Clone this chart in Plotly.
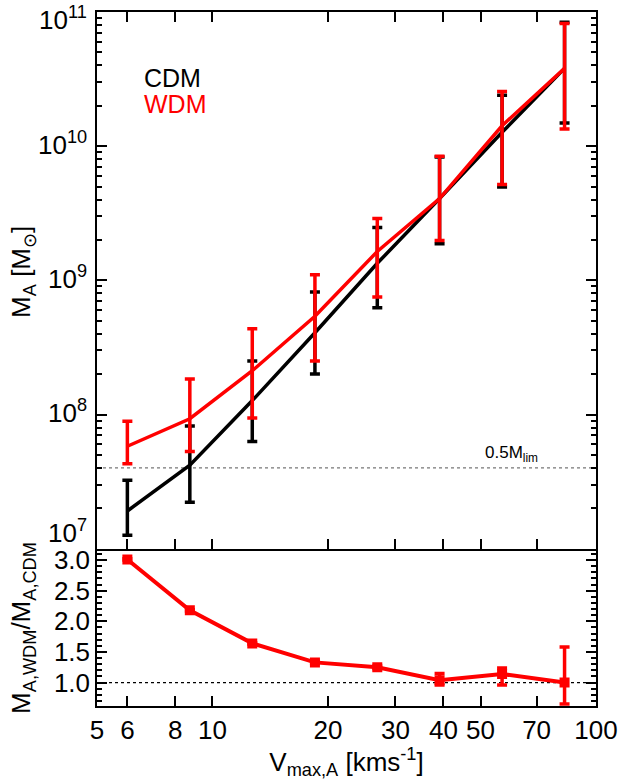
import plotly.graph_objects as go
import numpy as np

# ---- data ----
vmax = [6.0, 8.73, 12.7, 18.5, 26.9, 39.1, 56.9, 82.8]

cdm_mass = [1.91e7, 4.19e7, 1.27e8, 4.07e8, 1.34e9, 4.07e9, 1.27e10, 3.8e10]
cdm_hi = [3.24e7, 8.2e7, 2.5e8, 8.2e8, 2.48e9, 8.3e9, 2.4e10, 8.4e10]
cdm_lo = [1.26e7, 2.22e7, 6.3e7, 2.0e8, 6.24e8, 1.87e9, 4.97e9, 1.49e10]

wdm_mass = [5.8e7, 9.3e7, 2.12e8, 5.4e8, 1.64e9, 4.07e9, 1.42e10, 3.8e10]
wdm_hi = [8.9e7, 1.84e8, 4.35e8, 1.10e9, 2.89e9, 8.4e9, 2.55e10, 8.2e10]
wdm_lo = [4.3e7, 5.3e7, 9.4e7, 2.5e8, 7.5e8, 1.98e9, 5.17e9, 1.34e10]

ratio = [3.01, 2.18, 1.64, 1.33, 1.25, 1.04, 1.14, 1.00]
ratio_hi = [3.02, 2.19, 1.65, 1.35, 1.27, 1.15, 1.24, 1.58]
ratio_lo = [3.00, 2.17, 1.63, 1.31, 1.23, 0.96, 0.96, 0.65]

half_mlim = 4.0e7

x_ticks = [5, 6, 8, 10, 20, 30, 40, 50, 70, 100]
top_y_ticks = [1e7, 1e8, 1e9, 1e10, 1e11]
top_y_ticktext = ["10<sup>7</sup>", "10<sup>8</sup>", "10<sup>9</sup>",
                  "10<sup>10</sup>", "10<sup>11</sup>"]
bot_y_ticks = [1.0, 1.5, 2.0, 2.5, 3.0]
bot_y_ticktext = ["1.0", "1.5", "2.0", "2.5", "3.0"]

FONT = "Liberation Sans, Arial, Helvetica, sans-serif"
RED = "#ff0000"
TICK_SIZE = 26


def err(center, hi, lo):
    up = [h - c for h, c in zip(hi, center)]
    dn = [c - l for c, l in zip(center, lo)]
    return up, dn


fig = go.Figure()

# 0.5 M_lim line
fig.add_trace(go.Scatter(
    x=[5, 100], y=[half_mlim, half_mlim], mode="lines",
    line=dict(color="#777777", width=1.2, dash="dot"),
    xaxis="x2", yaxis="y2", showlegend=False, hoverinfo="skip"))

# CDM
up, dn = err(cdm_mass, cdm_hi, cdm_lo)
fig.add_trace(go.Scatter(
    x=vmax, y=cdm_mass, mode="lines", name="CDM",
    line=dict(color="black", width=3.5),
    error_y=dict(type="data", symmetric=False, array=up, arrayminus=dn,
                 color="black", thickness=3.5, width=5),
    xaxis="x2", yaxis="y2", showlegend=False))

# WDM
up, dn = err(wdm_mass, wdm_hi, wdm_lo)
fig.add_trace(go.Scatter(
    x=vmax, y=wdm_mass, mode="lines", name="WDM",
    line=dict(color=RED, width=3.5),
    error_y=dict(type="data", symmetric=False, array=up, arrayminus=dn,
                 color=RED, thickness=3.5, width=5),
    xaxis="x2", yaxis="y2", showlegend=False))

# ratio panel
fig.add_trace(go.Scatter(
    x=[5, 100], y=[1.0, 1.0], mode="lines",
    line=dict(color="black", width=1.2, dash="dot"),
    xaxis="x", yaxis="y", showlegend=False, hoverinfo="skip"))
up, dn = err(ratio, ratio_hi, ratio_lo)
fig.add_trace(go.Scatter(
    x=vmax, y=ratio, mode="lines+markers",
    line=dict(color=RED, width=4),
    marker=dict(symbol="square", size=10, color=RED),
    error_y=dict(type="data", symmetric=False, array=up, arrayminus=dn,
                 color=RED, thickness=3.5, width=5),
    xaxis="x", yaxis="y", showlegend=False))

# minor tick positions
top_minor = [m * 10 ** e for e in range(7, 11) for m in range(2, 10)]
bot_minor = [round(0.6 + 0.1 * i, 2) for i in range(0, 27)]
bot_minor = [v for v in bot_minor if v not in bot_y_ticks and 0.62 <= v <= 3.18]

axis_common = dict(showline=True, linecolor="black", linewidth=1.5,
                   ticks="inside", tickcolor="black", tickwidth=1.5,
                   ticklen=10, showgrid=False, zeroline=False,
                   tickfont=dict(family=FONT, size=TICK_SIZE, color="black"))

split = 158 / 697

# top-panel y tick labels as text (IDL keeps the end labels inside the frame)
label_shift = [17, 3, 3, 3, -6]
tick_annots = []
for v, t, s in zip(top_y_ticks, top_y_ticktext, label_shift):
    tick_annots.append(dict(
        text=t, x=-0.016, y=np.log10(v), xref="paper", yref="y2",
        xanchor="right", yanchor="middle", yshift=s, showarrow=False,
        font=dict(family=FONT, size=TICK_SIZE, color="black")))

fig.update_layout(
    width=627, height=780,
    margin=dict(l=97, r=22, t=9, b=74),
    paper_bgcolor="white", plot_bgcolor="white",
    font=dict(family=FONT, color="black"),
    xaxis=dict(type="log", range=[np.log10(5), 2], domain=[0, 1], anchor="y",
               tickmode="array", tickvals=x_ticks,
               ticktext=[str(v) for v in x_ticks],
               mirror=False,
               title=dict(text="V<sub>max,A</sub> [kms<sup>-1</sup>]",
                          font=dict(family=FONT, size=TICK_SIZE), standoff=1),
               **axis_common),
    yaxis=dict(range=[0.618, 3.186], domain=[0, split], anchor="x",
               tickmode="array", tickvals=bot_y_ticks, ticktext=bot_y_ticktext,
               mirror="ticks",
               minor=dict(tickmode="array", tickvals=bot_minor, ticks="inside",
                          ticklen=5, tickwidth=1.5, tickcolor="black"),
               **axis_common),
    xaxis2=dict(type="log", range=[np.log10(5), 2], domain=[0, 1], anchor="y2",
                matches="x", tickmode="array", tickvals=x_ticks,
                showticklabels=False, mirror="ticks",
                **axis_common),
    yaxis2=dict(type="log", range=[7, 11], domain=[split, 1], anchor="x2",
                tickmode="array", tickvals=top_y_ticks,
                showticklabels=False, mirror="ticks",
                minor=dict(tickmode="array", tickvals=top_minor, ticks="inside",
                           ticklen=5, tickwidth=1.5, tickcolor="black"),
                **axis_common),
    annotations=tick_annots + [
        dict(text="M<sub>A</sub> [M<sub>⊙</sub>]", x=-0.149, y=0.625,
             xref="paper", yref="paper", xanchor="center", yanchor="middle",
             textangle=-90, showarrow=False,
             font=dict(family=FONT, size=TICK_SIZE, color="black")),
        dict(text="M<sub>A,WDM</sub>/M<sub>A,CDM</sub>", x=-0.149, y=0.112,
             xref="paper", yref="paper", xanchor="center", yanchor="middle",
             textangle=-90, showarrow=False,
             font=dict(family=FONT, size=TICK_SIZE, color="black")),
        dict(text="CDM", x=0.09, y=0.8776, xref="x2 domain", yref="y2 domain",
             xanchor="left", yanchor="middle", showarrow=False,
             font=dict(family=FONT, size=25, color="black")),
        dict(text="WDM", x=0.09, y=0.829, xref="x2 domain", yref="y2 domain",
             xanchor="left", yanchor="middle", showarrow=False,
             font=dict(family=FONT, size=25, color=RED)),
        dict(text="0.5M<sub>lim</sub>", x=0.888, y=np.log10(half_mlim),
             xref="x2 domain", yref="y2", xanchor="right", yanchor="bottom",
             yshift=1, showarrow=False,
             font=dict(family=FONT, size=17, color="black")),
    ],
)

fig.write_html("out.html",
               config={"displayModeBar": False},
               post_script="document.body.style.margin='0';"
                           "document.body.style.overflow='hidden';")
